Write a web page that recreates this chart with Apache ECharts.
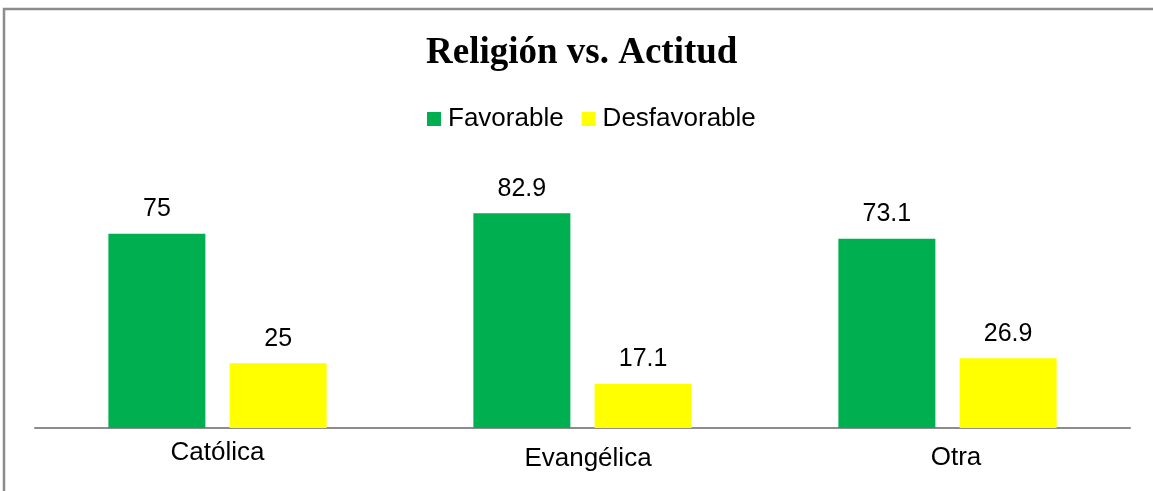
<!DOCTYPE html>
<html>
<head>
<meta charset="utf-8">
<title>Religión vs. Actitud</title>
<script src="https://cdn.jsdelivr.net/npm/echarts@6/dist/echarts.min.js"></script>
<style>
    html, body { margin: 0; padding: 0; background: #fff; }
    #myChart { width: 1153px; height: 491px; }
</style>
</head>
<body>
<div id="myChart"></div>
<script>
// categorias (eje x)
var categorias = ['Católica', 'Evangélica', 'Otra'];
// series
var favorable = [75, 82.9, 73.1];
var desfavorable = [25, 17.1, 26.9];
var nombresSeries = ['Favorable', 'Desfavorable'];

window.onload = function () {
    religionChart();
}

function religionChart() {
    var myChart = echarts.init(document.getElementById('myChart'));
    // desplazamiento de las etiquetas del eje (como en el original)
    var desplaz = [[0, 0, 0, 0], [6, 0, 0, 11], [5, 0, 0, 17]];
    var ejeX = [];
    for (var j = 0; j < categorias.length; j++) {
        ejeX.push({ value: categorias[j], textStyle: { padding: desplaz[j] } });
    }
    var labelStyle = {
        show: true,
        position: 'top',
        distance: 12,
        color: '#000',
        fontSize: 25,
        fontFamily: 'Liberation Sans, Arial, sans-serif'
    };
    var option = {
        backgroundColor: '#fff',
        animation: false,
        title: {
            text: 'Religión vs. Actitud',
            left: 421,
            top: 30,
            textStyle: {
                fontFamily: 'Liberation Serif, Times New Roman, serif',
                fontWeight: 'bold',
                fontSize: 37,
                color: '#000'
            }
        },
        legend: {
            data: nombresSeries,
            top: 101,
            left: 422,
            itemWidth: 14,
            itemHeight: 14,
            itemGap: 18,
            icon: 'rect',
            textStyle: {
                fontFamily: 'Liberation Sans, Arial, sans-serif',
                fontSize: 26,
                color: '#000',
                padding: [0, 0, 0, 2]
            }
        },
        grid: {
            top: 169,
            bottom: 63,
            left: 35,
            right: 23
        },
        xAxis: {
            type: 'category',
            data: ejeX,
            axisLine: {
                show: true,
                lineStyle: { color: '#8c8c8c', width: 2 }
            },
            axisTick: { show: false },
            axisLabel: {
                margin: 12,
                color: '#000',
                fontSize: 26,
                fontFamily: 'Liberation Sans, Arial, sans-serif'
            }
        },
        yAxis: {
            type: 'value',
            min: 0,
            max: 100,
            show: false,
            splitLine: { show: false }
        },
        series: [{
            name: nombresSeries[0],
            type: 'bar',
            data: favorable,
            barWidth: 97,
            barGap: '25%',
            itemStyle: { color: '#00b050' },
            label: labelStyle
        }, {
            name: nombresSeries[1],
            type: 'bar',
            data: desfavorable,
            barWidth: 97,
            barGap: '25%',
            itemStyle: { color: '#ffff00' },
            label: labelStyle
        }],
        graphic: [{
            type: 'rect',
            shape: { x: 4, y: 9, width: 1200, height: 600 },
            style: { fill: 'none', stroke: '#8c8c8c', lineWidth: 2.5 },
            silent: true
        }]
    };
    myChart.setOption(option);
    window.onresize = myChart.resize;
}
</script>
</body>
</html>
